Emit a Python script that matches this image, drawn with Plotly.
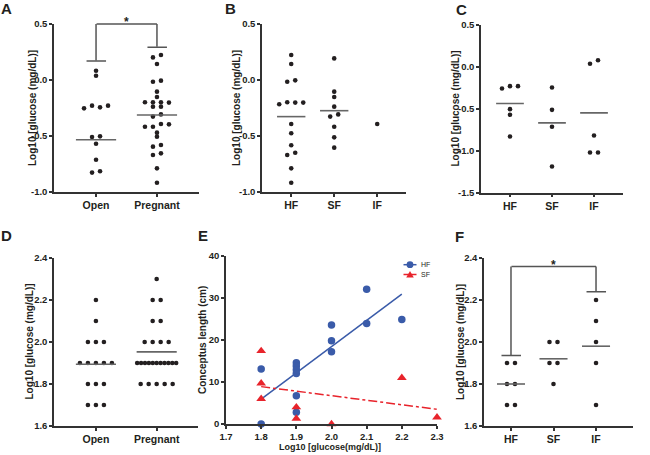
import numpy as np
import plotly.graph_objects as go

W, H = 650, 455

# ---------------- data ----------------
A_categories = ["Open", "Pregnant"]
A_open = [0.083, 0.038, -0.253, -0.229, -0.244, -0.229, -0.509, -0.503,
          -0.569, -0.712, -0.827, -0.815]
A_pregnant = [0.202, 0.223, 0.143, -0.015, -0.006, -0.104, -0.152,
              -0.199, -0.199, -0.199, -0.202, -0.238, -0.238, -0.327, -0.307,
              -0.417, -0.417, -0.393, -0.396, -0.470, -0.506, -0.595, -0.580,
              -0.670, -0.655, -0.789, -0.917]
A_means = [-0.533, -0.312]
A_caps = [0.170, 0.292]
A_bracket = 0.5
A_yticks = [-1.0, -0.5, 0.0, 0.5]

B_categories = ["HF", "SF", "IF"]
B_HF = [0.223, 0.143, -0.015, -0.003, -0.217, -0.199, -0.202, -0.202,
        -0.393, -0.476, -0.583, -0.670, -0.649, -0.789, -0.917]
B_SF = [0.193, -0.104, -0.152, -0.238, -0.327, -0.307, -0.417, -0.512, -0.604]
B_IF = [-0.393]
B_means = [-0.327, -0.274, None]
B_yticks = [-1.0, -0.5, 0.0, 0.5]

C_categories = ["HF", "SF", "IF"]
C_HF = [-0.262, -0.234, -0.234, -0.508, -0.575, -0.833]
C_SF = [-0.250, -0.516, -0.718, -1.190]
C_IF = [0.032, 0.075, -0.821, -1.024, -1.024]
C_means = [-0.440, -0.671, -0.552]
C_yticks = [-1.5, -1.0, -0.5, 0.0, 0.5]

D_categories = ["Open", "Pregnant"]
D_open = [2.2, 2.1, 2.0, 2.0, 2.0, 1.9, 1.9, 1.9, 1.9, 1.9,
          1.8, 1.8, 1.8, 1.7, 1.7, 1.7]
D_pregnant = [2.3, 2.2, 2.2, 2.1, 2.1, 2.0, 2.0, 2.0, 2.0,
              1.9, 1.9, 1.9, 1.9, 1.9, 1.9, 1.9, 1.9, 1.9, 1.9, 1.9,
              1.8, 1.8, 1.8, 1.8, 1.8]
D_means = [1.894, 1.953]
D_yticks = [1.6, 1.8, 2.0, 2.2, 2.4]

E_HF_x = [1.8, 1.8, 1.9, 1.9, 1.9, 1.9, 1.9, 1.9, 2.0, 2.0, 2.0, 2.1, 2.1, 2.2]
E_HF_y = [13.1, 0.0, 14.6, 13.8, 12.9, 12.0, 6.7, 2.8, 23.6, 19.8, 17.2, 32.1, 23.9, 24.9]
E_SF_x = [1.8, 1.8, 1.8, 1.9, 1.9, 2.0, 2.2, 2.3]
E_SF_y = [17.4, 9.7, 6.0, 4.0, 1.3, 0.0, 11.0, 1.6]
E_HF_fit_x = [1.8, 2.2]
E_HF_fit_y = [5.9, 30.9]
E_SF_fit_x = [1.8, 2.3]
E_SF_fit_y = [8.9, 3.5]
E_xticks = [1.7, 1.8, 1.9, 2.0, 2.1, 2.2, 2.3]
E_yticks = [0, 10, 20, 30, 40]

F_categories = ["HF", "SF", "IF"]
F_HF = [1.9, 1.9, 1.8, 1.8, 1.7, 1.7]
F_SF = [2.0, 2.0, 1.9, 1.9, 1.8]
F_IF = [2.2, 2.1, 2.0, 1.9, 1.7]
F_means = [1.80, 1.92, 1.98]
F_caps = [1.936, None, 2.239]
F_bracket = 2.359
F_yticks = [1.6, 1.8, 2.0, 2.2, 2.4]

# ---------------- style ----------------
FONT = "Liberation Sans, Arial, Helvetica, sans-serif"
TXT = "#231f20"
AX = "#333333"
DOT = "#231f20"
MEAN = "#666666"
BR = "#555555"
BLUE = "#3a5ba9"
RED = "#e8232b"

TICKFONT = dict(family=FONT, size=9.5, color=TXT, weight="bold")
CATFONT = dict(family=FONT, size=10.5, color=TXT, weight="bold")
TITLEFONT = dict(family=FONT, size=10, color=TXT, weight="bold")
LETTERFONT = dict(family=FONT, size=15, color=TXT, weight="bold")


def dom(box):
    l, r, t, b = box
    return [l / W, r / W], [1 - b / H, 1 - t / H]


def swarm(values, center, ppx, ppy, tol_px=3.8, step_px=8.0, max_w_px=39.0):
    vals = np.asarray(values, float)
    order = sorted(range(len(vals)), key=lambda i: -vals[i])
    clusters = []
    for i in order:
        if clusters and (vals[clusters[-1][0]] - vals[i]) * ppy <= tol_px:
            clusters[-1].append(i)
        else:
            clusters.append([i])
    xs = np.zeros(len(vals))
    for c in clusters:
        c = sorted(c)
        n = len(c)
        step = step_px if n <= 1 else min(step_px, max_w_px / (n - 1))
        for k, i in enumerate(c):
            xs[i] = center + (k - (n - 1) / 2) * step / ppx
    return xs


fig = go.Figure()
annotations = []
shapes = []
layout_axes = {}


def axis_names(idx):
    s = "" if idx == 1 else str(idx)
    return "x" + s, "y" + s, "xaxis" + s, "yaxis" + s


def seg(idx, x0, y0, x1, y1):
    xa, ya, _, _ = axis_names(idx)
    return dict(xref=xa, yref=ya, axref=xa, ayref=ya, x=x1, y=y1, ax=x0, ay=y0,
                text="", showarrow=True, arrowhead=0, arrowwidth=1.5,
                arrowcolor=BR, standoff=0, startstandoff=0,
                font=dict(size=1), borderpad=0)


common_axis = dict(showgrid=False, zeroline=False, showline=True, linecolor=AX,
                   linewidth=1.5, ticks="outside", ticklen=3, tickwidth=1.5,
                   tickcolor=AX, fixedrange=True, automargin=False)

dot_panels = [
    dict(idx=1, box=(54, 199, 24, 192), xr=(-0.69, 1.69), yr=(-1.0, 0.5),
         cats=A_categories, groups=[A_open, A_pregnant], means=A_means,
         caps=A_caps, bracket=A_bracket, pair=(0, 1), yticks=A_yticks,
         title_x=32, letter="A", letter_xy=(6, 8.5)),
    dict(idx=2, box=(262, 406, 24, 192), xr=(-0.68, 2.67), yr=(-1.0, 0.5),
         cats=B_categories, groups=[B_HF, B_SF, B_IF], means=B_means,
         caps=None, bracket=None, pair=None, yticks=B_yticks,
         title_x=236, letter="B", letter_xy=(230.5, 8)),
    dict(idx=3, box=(481, 623, 24.5, 192.5), xr=(-0.69, 2.69), yr=(-1.5, 0.5),
         cats=C_categories, groups=[C_HF, C_SF, C_IF], means=C_means,
         caps=None, bracket=None, pair=None, yticks=C_yticks,
         title_x=455, letter="C", letter_xy=(461, 9)),
    dict(idx=4, box=(54, 198, 258, 426), xr=(-0.69, 1.68), yr=(1.6, 2.4),
         cats=D_categories, groups=[D_open, D_pregnant], means=D_means,
         caps=None, bracket=None, pair=None, yticks=D_yticks,
         title_x=28.5, letter="D", letter_xy=(6, 235)),
    dict(idx=6, box=(484, 633, 258, 426), xr=(-0.635, 2.87), yr=(1.6, 2.4),
         cats=F_categories, groups=[F_HF, F_SF, F_IF], means=F_means,
         caps=F_caps, bracket=F_bracket, pair=(0, 2), yticks=F_yticks,
         title_x=460, letter="F", letter_xy=(459, 236.5)),
]

for p in dot_panels:
    idx = p["idx"]
    xa, ya, xkey, ykey = axis_names(idx)
    l, r, t, b = p["box"]
    ppx = (r - l) / (p["xr"][1] - p["xr"][0])
    ppy = (b - t) / (p["yr"][1] - p["yr"][0])
    xd, yd = dom(p["box"])
    for gi, vals in enumerate(p["groups"]):
        xs = swarm(vals, gi, ppx, ppy)
        fig.add_trace(go.Scatter(x=xs, y=vals, mode="markers", xaxis=xa, yaxis=ya,
                                 marker=dict(size=4.6, color=DOT), cliponaxis=False,
                                 showlegend=False, hoverinfo="skip"))
    mx, my = [], []
    for gi, m in enumerate(p["means"]):
        if m is None:
            continue
        mx += [gi - 0.33, gi + 0.33, None]
        my += [m, m, None]
    fig.add_trace(go.Scatter(x=mx, y=my, mode="lines", xaxis=xa, yaxis=ya,
                             line=dict(color=MEAN, width=1.6), showlegend=False,
                             hoverinfo="skip"))
    if p["pair"] is not None:
        i0, i1 = p["pair"]
        top = p["bracket"]
        hw = 10.0 / ppx
        for gi in (i0, i1):
            cap = p["caps"][gi]
            annotations.append(seg(idx, gi - hw, cap, gi + hw, cap))
            annotations.append(seg(idx, gi, cap, gi, top))
        annotations.append(seg(idx, i0, top, i1, top))
        annotations.append(dict(xref=xa, yref=ya, x=(i0 + i1) / 2, y=top, text="*",
                                showarrow=False, yanchor="middle", yshift=2,
                                font=dict(family=FONT, size=12, color=TXT, weight="bold")))
    layout_axes[xkey] = dict(common_axis, domain=xd, range=list(p["xr"]),
                             tickvals=list(range(len(p["cats"]))), ticktext=p["cats"],
                             tickfont=CATFONT, anchor=ya)
    layout_axes[ykey] = dict(common_axis, domain=yd, range=list(p["yr"]),
                             tickvals=p["yticks"],
                             ticktext=[f"{v:.1f}" for v in p["yticks"]],
                             tickfont=TICKFONT, anchor=xa)
    annotations.append(dict(xref="paper", yref="paper", x=p["title_x"] / W,
                            y=1 - (t + b) / 2 / H, text="Log10 [glucose (mg/dL)]",
                            textangle=-90, showarrow=False, xanchor="center",
                            yanchor="middle", font=TITLEFONT))
    lx, ly = p["letter_xy"]
    annotations.append(dict(xref="paper", yref="paper", x=lx / W, y=1 - ly / H,
                            text=p["letter"], showarrow=False, xanchor="center",
                            yanchor="middle", font=LETTERFONT))

# ---------------- panel E ----------------
E_box = (226, 437, 256, 424)
xd, yd = dom(E_box)
fig.add_trace(go.Scatter(x=E_HF_fit_x, y=E_HF_fit_y, mode="lines", xaxis="x5", yaxis="y5",
                         line=dict(color=BLUE, width=1.5), showlegend=False, hoverinfo="skip"))
fig.add_trace(go.Scatter(x=E_SF_fit_x, y=E_SF_fit_y, mode="lines", xaxis="x5", yaxis="y5",
                         line=dict(color=RED, width=1.5, dash="dashdot"), showlegend=False,
                         hoverinfo="skip"))
fig.add_trace(go.Scatter(x=E_HF_x, y=E_HF_y, mode="markers", xaxis="x5", yaxis="y5",
                         marker=dict(size=7.5, color=BLUE, symbol="circle"), cliponaxis=False,
                         showlegend=False, hoverinfo="skip"))
fig.add_trace(go.Scatter(x=E_SF_x, y=E_SF_y, mode="markers", xaxis="x5", yaxis="y5",
                         marker=dict(size=8.5, color=RED, symbol="triangle-up"), cliponaxis=False,
                         showlegend=False, hoverinfo="skip"))
layout_axes["xaxis5"] = dict(common_axis, domain=xd, range=[1.7, 2.3], tickvals=E_xticks,
                             ticktext=[f"{v:.1f}" for v in E_xticks], tickfont=TICKFONT,
                             anchor="y5")
layout_axes["yaxis5"] = dict(common_axis, domain=yd, range=[0, 40], tickvals=E_yticks,
                             ticktext=[str(v) for v in E_yticks], tickfont=TICKFONT,
                             anchor="x5")
annotations.append(dict(xref="paper", yref="paper", x=202 / W, y=1 - 340 / H,
                        text="Conceptus length (cm)", textangle=-90, showarrow=False,
                        xanchor="center", yanchor="middle", font=TITLEFONT))
annotations.append(dict(xref="paper", yref="paper", x=330 / W, y=1 - 447 / H,
                        text="Log10 [glucose(mg/dL)]", showarrow=False,
                        xanchor="center", yanchor="middle",
                        font=dict(family=FONT, size=9, color=TXT, weight="bold")))
annotations.append(dict(xref="paper", yref="paper", x=202.5 / W, y=1 - 235 / H,
                        text="E", showarrow=False, xanchor="center", yanchor="middle",
                        font=LETTERFONT))

# legend of panel E (drawn by hand for tight spacing)
LEG = [("HF", BLUE, "circle", 264.7), ("SF", RED, "triangle", 274.5)]
for name, col, sym, yy in LEG:
    shapes.append(dict(type="line", xref="paper", yref="paper", x0=403.5 / W, x1=416.5 / W,
                       y0=1 - yy / H, y1=1 - yy / H, line=dict(color=col, width=1.5)))
    if sym == "circle":
        shapes.append(dict(type="circle", xref="paper", yref="paper",
                           x0=(410 - 3.4) / W, x1=(410 + 3.4) / W,
                           y0=1 - (yy + 3.4) / H, y1=1 - (yy - 3.4) / H,
                           fillcolor=col, line=dict(color=col, width=0)))
    else:
        cx = 410
        path = (f"M {(cx - 3.8) / W},{1 - (yy + 3.0) / H} "
                f"L {(cx + 3.8) / W},{1 - (yy + 3.0) / H} "
                f"L {cx / W},{1 - (yy - 3.6) / H} Z")
        shapes.append(dict(type="path", xref="paper", yref="paper", path=path,
                           fillcolor=col, line=dict(color=col, width=0)))
    annotations.append(dict(xref="paper", yref="paper", x=419 / W, y=1 - yy / H, text=name,
                            showarrow=False, xanchor="left", yanchor="middle",
                            font=dict(family=FONT, size=7, color=TXT)))

fig.update_layout(width=W, height=H,
                  margin=dict(l=0, r=0, t=0, b=0, pad=0, autoexpand=False),
                  paper_bgcolor="white", plot_bgcolor="white", showlegend=False,
                  annotations=annotations, shapes=shapes, **layout_axes)

fig.write_html("out.html", config={"displayModeBar": False},
               post_script="document.body.style.margin='0px';document.body.style.padding='0px';")
